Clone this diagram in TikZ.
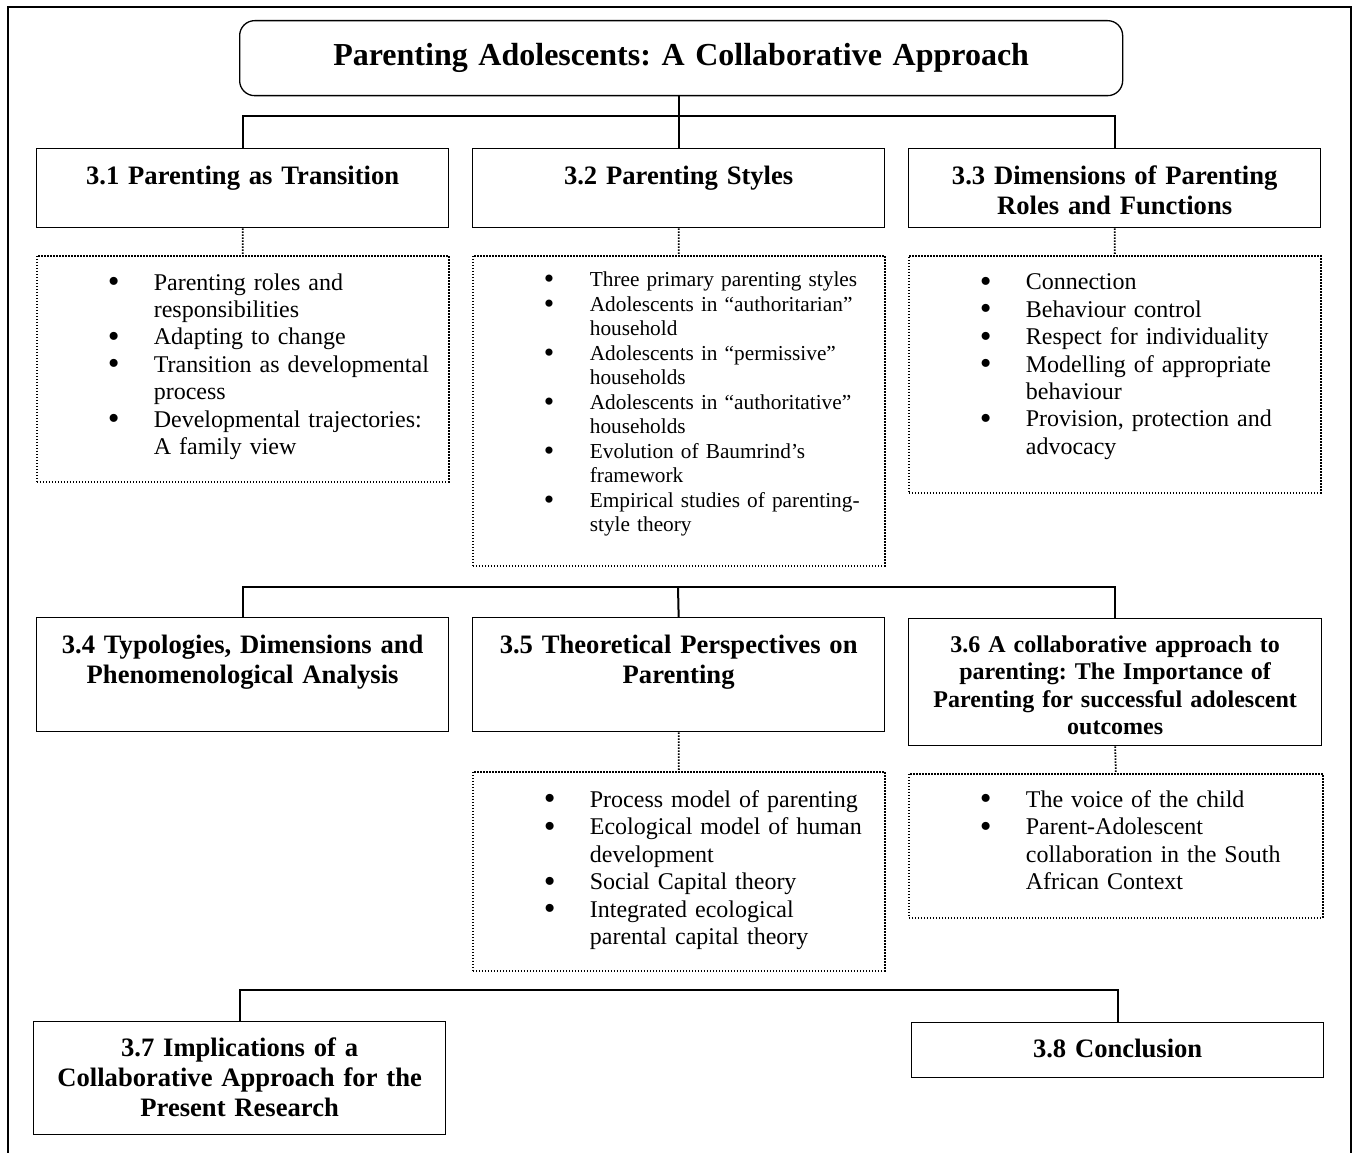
\documentclass[tikz,border=0pt]{standalone}
\usepackage{fontspec}
\setmainfont{Liberation Serif}
\usepackage{graphicx}
\frenchspacing
\newcommand\bulglyph{\smash{\raisebox{-0.1em}{\scalebox{1.4}{\textbullet}}}}
\newcommand\bl{\hspace*{71pt}\makebox[46pt][l]{\bulglyph}}
\newcommand\ct{\hspace*{117pt}}
\newcommand\tfont{\fontsize{32}{36}\selectfont\bfseries}
\newcommand\hfont{\fontsize{26.6}{30}\selectfont\bfseries}
\newcommand\sfontb{\fontsize{24}{27.4}\selectfont\bfseries}
\newcommand\lfont{\fontsize{24}{27.4}\selectfont}
\newcommand\mfont{\fontsize{21.3}{24.5}\selectfont}
\begin{document}
\begin{tikzpicture}[x=1pt,y=-1pt,
  box/.style={draw, line width=1.3pt, anchor=north west, inner sep=0pt, align=center, font=\hfont, text width=412pt},
  dbox/.style={draw, line width=1.7pt, dash pattern=on 1.5pt off 1.5pt, anchor=north west, inner sep=0pt, align=left, font=\lfont, text width=412pt},
  conn/.style={line width=2pt},
  dconn/.style={line width=1.8pt, dash pattern=on 1.5pt off 1.5pt}]
\useasboundingbox (0,0) rectangle (1360,1153);
\draw[line width=1.5pt] (8,1153) -- (8,7) -- (1351,7) -- (1351,1153);

% title
\node[box, rounded corners=15pt, text width=883pt, text height=45pt, text depth=30pt, font=\tfont] (title) at (239,20) {Parenting Adolescents: A Collaborative Approach};

% row 1
\node[box, text height=36pt, text depth=43pt] (b31) at (36,148) {3.1 Parenting as Transition};
\node[box, text height=36pt, text depth=43pt] (b32) at (472,148) {3.2 Parenting Styles};
\node[box, text height=36pt, text depth=43pt] (b33) at (908,148) {3.3 Dimensions of Parenting\\Roles and Functions};

\node[dbox, text height=34.3pt, text depth=191.7pt] (d31) at (36,255) {%
\bl Parenting roles and\\ \ct responsibilities\\
\bl Adapting to change\\
\bl Transition as developmental\\ \ct process\\
\bl Developmental trajectories:\\ \ct A family view};
\node[dbox, font=\mfont, text height=30.7pt, text depth=279.3pt] (d32) at (472,255) {%
\bl Three primary parenting styles\\
\bl Adolescents in “authoritarian”\\ \ct household\\
\bl Adolescents in “permissive”\\ \ct households\\
\bl Adolescents in “authoritative”\\ \ct households\\
\bl Evolution of Baumrind’s\\ \ct framework\\
\bl Empirical studies of parenting-\\ \ct style theory};
\node[dbox, text height=34pt, text depth=203pt] (d33) at (908,255) {%
\bl Connection\\
\bl Behaviour control\\
\bl Respect for individuality\\
\bl Modelling of appropriate\\ \ct behaviour\\
\bl Provision, protection and\\ \ct advocacy};

% row 2
\node[box, text height=36pt, text depth=78pt] (b34) at (36,617) {3.4 Typologies, Dimensions and\\Phenomenological Analysis};
\node[box, text height=36pt, text depth=78pt] (b35) at (472,617) {3.5 Theoretical Perspectives on\\Parenting};
\node[box, font=\sfontb, text width=413pt, text height=33.7pt, text depth=93.3pt] (b36) at (908,618) {3.6 A collaborative approach to\\parenting: The Importance of\\Parenting for successful adolescent\\outcomes};

\node[dbox, text height=35.7pt, text depth=163.3pt] (d35) at (472,771) {%
\bl Process model of parenting\\
\bl Ecological model of human\\ \ct development\\
\bl Social Capital theory\\
\bl Integrated ecological\\ \ct parental capital theory};
\node[dbox, text width=414pt, text height=33.7pt, text depth=110.3pt] (d36) at (908,773) {%
\bl The voice of the child\\
\bl Parent-Adolescent\\ \ct collaboration in the South\\ \ct African Context};

% row 3
\node[box, text height=35pt, text depth=78pt] (b37) at (33,1021) {3.7 Implications of a\\Collaborative Approach for the\\Present Research};
\node[box, text height=34.7pt, text depth=20.3pt] (b38) at (911,1022) {3.8 Conclusion};

% connectors
\coordinate (j1) at (678,116);
\coordinate (j2) at (678,587);
\coordinate (j3) at (678,990);
\draw[conn] (b32.north |- title.south) -- (b32.north);
\draw[conn] (b31.north) |- (j1) -| (b33.north);
\draw[conn] (b34.north) |- (j2) -| (b36.north);
\draw[conn] (j2) -- (b35.north);
\draw[conn] (b37.north) |- (j3) -| (b38.north);

\draw[dconn] (b31.south) -- (d31.north);
\draw[dconn] (b32.south) -- (d32.north);
\draw[dconn] (b33.south) -- (d33.north);
\draw[dconn] (b35.south) -- (d35.north);
\draw[dconn] (b36.south) -- (d36.north);
\end{tikzpicture}
\end{document}
